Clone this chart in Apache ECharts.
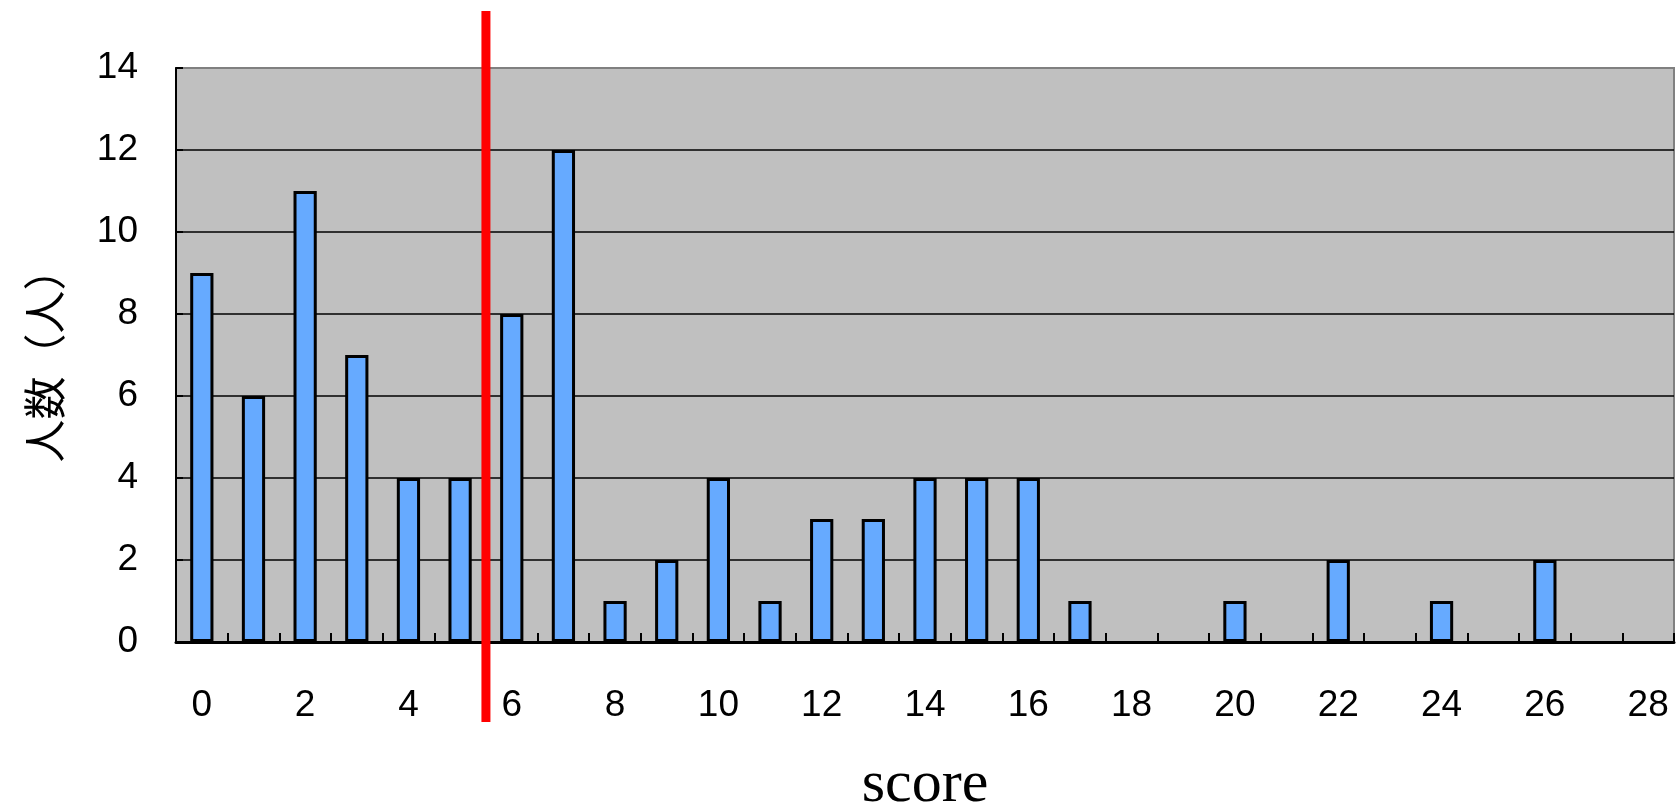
<!DOCTYPE html>
<html>
<head>
<meta charset="utf-8">
<script src="https://cdn.jsdelivr.net/npm/echarts@6/dist/echarts.min.js"></script>
<style>html,body{margin:0;padding:0;background:#fff}#c{width:1677px;height:807px}</style>
</head>
<body>
<div id="c"></div>
<script>
const categories = ['0','1','2','3','4','5','6','7','8','9','10','11','12','13','14','15','16','17','18','19','20','21','22','23','24','25','26','27','28'];
const counts = [9,6,11,7,4,4,8,12,1,2,4,1,3,3,4,4,4,1,0,0,1,0,2,0,1,0,2,0,0];
const cutoffBetween = [5, 6];
const yTicks = {min: 0, max: 14, interval: 2};

const chart = echarts.init(document.getElementById('c'));
const numFont = 'Liberation Sans';
chart.setOption({
  animation: false,
  grid: {left: 176, right: 3, top: 68, bottom: 165, containLabel: false, outerBoundsMode: 'none', show: true, backgroundColor: '#c0c0c0', borderColor: '#808080', borderWidth: 2},
  xAxis: {
    type: 'category', data: categories, boundaryGap: true,
    name: 'score', nameLocation: 'middle', nameGap: 113,
    nameTextStyle: {fontFamily: 'Liberation Serif', fontSize: 60, color: '#000'},
    axisLine: {lineStyle: {color: '#000', width: 3}},
    axisTick: {show: true, inside: true, length: 9, interval: 0, lineStyle: {color: '#000', width: 2}},
    axisLabel: {interval: 1, margin: 45, fontFamily: numFont, fontSize: 37, color: '#000'}
  },
  yAxis: {
    type: 'value', min: yTicks.min, max: yTicks.max, interval: yTicks.interval,
    name: '人数（人）', nameLocation: 'middle', nameGap: 110, nameRotate: 90,
    nameTextStyle: {fontFamily: 'Noto Sans CJK JP', fontSize: 43, color: '#000'},
    axisLine: {show: true, lineStyle: {color: '#000', width: 2}},
    axisTick: {show: true, inside: true, length: 7, lineStyle: {color: '#000', width: 2}},
    axisLabel: {margin: 38, fontFamily: numFont, fontSize: 37, color: '#000'},
    splitLine: {show: true, lineStyle: {color: ['#000','#000','#000','#000','#000','#000','#000','#808080'], width: 1.5}}
  },
  series: [{
    type: 'bar', data: counts.map(v => v === 0 ? '-' : v), barWidth: '45%',
    itemStyle: {color: '#66aaff', borderColor: '#000', borderWidth: 3}
  }]
});
const xa = chart.convertToPixel({xAxisIndex: 0}, cutoffBetween[0]);
const xb = chart.convertToPixel({xAxisIndex: 0}, cutoffBetween[1]);
const xLine = (xa + xb) / 2;
const yTop = chart.convertToPixel({yAxisIndex: 0}, yTicks.max) - 57;
const yBot = chart.convertToPixel({yAxisIndex: 0}, yTicks.min) + 80;
chart.setOption({
  graphic: [{type: 'line', shape: {x1: xLine, y1: yTop, x2: xLine, y2: yBot}, style: {stroke: '#ff0000', lineWidth: 9}, z: 100}]
});
</script>
</body>
</html>
